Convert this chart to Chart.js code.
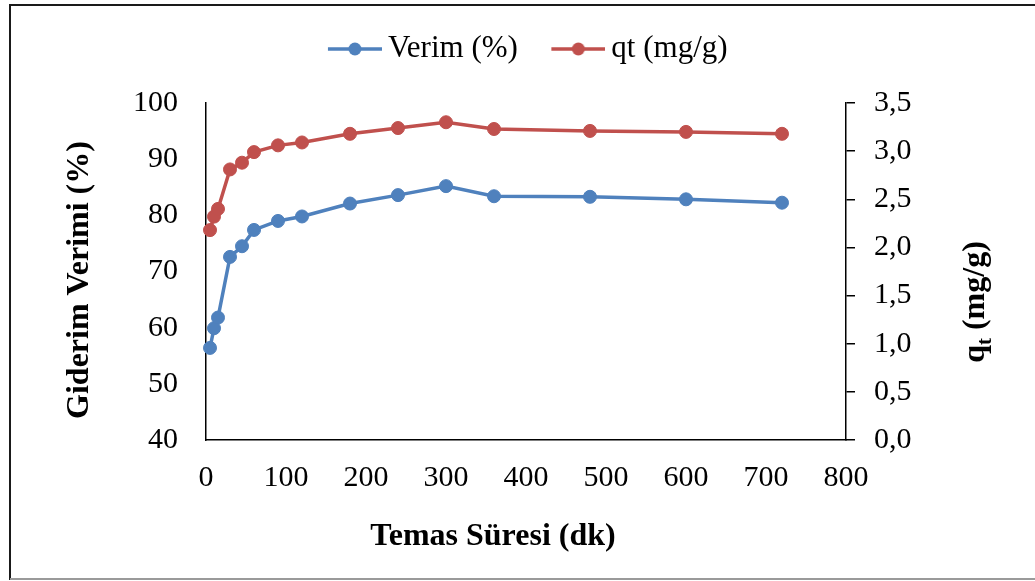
<!DOCTYPE html>
<html>
<head>
<meta charset="utf-8">
<title>Temas Süresi</title>
<script src="https://cdn.jsdelivr.net/npm/chart.js@4.4.1/dist/chart.umd.min.js"></script>
<style>
  html, body { margin: 0; padding: 0; background: #ffffff; }
  #wrap { width: 1035px; height: 581px; position: relative; }
</style>
</head>
<body>
<div id="wrap"><canvas id="chart" width="1035" height="581"></canvas></div>
<script>
// Contact time (min) and the two measured series
const contactTimes      = [5, 10, 15, 30, 45, 60, 90, 120, 180, 240, 300, 360, 480, 600, 720];
const removalEfficiency = [56.4, 59.9, 61.8, 72.6, 74.5, 77.4, 79.0, 79.8, 82.1, 83.6, 85.2, 83.4, 83.3, 82.85, 82.25];
const adsorbedAmount    = [2.18, 2.32, 2.40, 2.81, 2.88, 2.99, 3.06, 3.09, 3.18, 3.24, 3.30, 3.23, 3.21, 3.20, 3.18];
const seriesNames  = ['Verim (%)', 'qt (mg/g)'];
const seriesColors = ['#4F81BD', '#C0504D'];

// Axis ranges / steps
const xRange     = [0, 800, 100];
const leftRange  = [40, 100, 10];
const rightRange = [0, 3.5, 0.5];

const SERIF = '"Liberation Serif", "Times New Roman", serif';

// Legend marker: line with a dot in the middle
function legendMarker(color) {
  const c = document.createElement('canvas');
  c.width = 77; c.height = 16;
  const g = c.getContext('2d');
  g.strokeStyle = color; g.lineWidth = 3.5;
  g.beginPath(); g.moveTo(23, 8); g.lineTo(77, 8); g.stroke();
  g.fillStyle = color;
  g.beginPath(); g.arc(50, 8, 6.5, 0, Math.PI * 2); g.fill();
  return c;
}

function toPoints(xs, ys) { return xs.map((x, i) => ({ x: x, y: ys[i] })); }

// Page frame plus the three axis titles
const framePlugin = {
  id: 'frame',
  beforeDraw(chart) {
    const ctx = chart.ctx;
    ctx.save();
    ctx.fillStyle = '#ffffff';
    ctx.fillRect(0, 0, chart.width, chart.height);
    ctx.strokeStyle = '#1a1a1a'; ctx.lineWidth = 2;
    ctx.beginPath();
    ctx.moveTo(10, 580); ctx.lineTo(10, 5); ctx.lineTo(chart.width, 5);
    ctx.stroke();
    ctx.strokeStyle = '#9a9a9a'; ctx.lineWidth = 2;
    ctx.beginPath(); ctx.moveTo(10, 579); ctx.lineTo(chart.width, 579); ctx.stroke();
    ctx.restore();
  },
  afterDraw(chart) {
    const ctx = chart.ctx;
    ctx.save();
    ctx.fillStyle = '#000000';
    ctx.font = 'bold 32px ' + SERIF;
    ctx.textAlign = 'center';
    ctx.textBaseline = 'middle';
    // left axis title
    ctx.save(); ctx.translate(80, 280); ctx.rotate(-Math.PI / 2);
    ctx.fillText('Giderim Verimi (%)', 0, 0);
    ctx.restore();
    // bottom axis title
    ctx.fillText('Temas Süresi (dk)', 493, 537);
    // right axis title: q with subscript t
    ctx.save(); ctx.translate(973, 302); ctx.rotate(-Math.PI / 2);
    ctx.textAlign = 'left'; ctx.textBaseline = 'alphabetic';
    const mainFont = 'bold 32px ' + SERIF, subFont = 'bold 21px ' + SERIF;
    ctx.font = mainFont; const wq = ctx.measureText('q').width;
    const wr = ctx.measureText(' (mg/g)').width;
    ctx.font = subFont;  const wt = ctx.measureText('t').width;
    let x0 = -(wq + wt + wr) / 2;
    const base = 11;
    ctx.font = mainFont; ctx.fillText('q', x0, base);
    ctx.font = subFont;  ctx.fillText('t', x0 + wq, base + 7);
    ctx.font = mainFont; ctx.fillText(' (mg/g)', x0 + wq + wt, base);
    ctx.restore();
    ctx.restore();
  }
};

const axisLine = { display: true, color: '#000000', width: 1.5 };

new Chart(document.getElementById('chart'), {
  type: 'line',
  data: {
    datasets: [
      {
        label: seriesNames[0],
        data: toPoints(contactTimes, removalEfficiency),
        xAxisID: 'x', yAxisID: 'y',
        borderColor: seriesColors[0], backgroundColor: seriesColors[0],
        pointBackgroundColor: seriesColors[0], pointBorderColor: seriesColors[0],
        borderWidth: 3.5, pointRadius: 6.5, pointBorderWidth: 1, pointHoverRadius: 6.5,
        tension: 0, clip: false
      },
      {
        label: seriesNames[1],
        data: toPoints(contactTimes, adsorbedAmount),
        xAxisID: 'x', yAxisID: 'y1',
        borderColor: seriesColors[1], backgroundColor: seriesColors[1],
        pointBackgroundColor: seriesColors[1], pointBorderColor: seriesColors[1],
        borderWidth: 3.5, pointRadius: 6.5, pointBorderWidth: 1, pointHoverRadius: 6.5,
        tension: 0, clip: false
      }
    ]
  },
  options: {
    responsive: false,
    animation: false,
    devicePixelRatio: 1,
    layout: { padding: { top: 13.5, left: 7, right: 0, bottom: 0 } },
    plugins: {
      tooltip: { enabled: false },
      legend: {
        display: true,
        position: 'top',
        labels: {
          usePointStyle: true,
          pointStyleWidth: 58,
          padding: 20,
          color: '#000000',
          font: { family: SERIF, size: 31 },
          generateLabels(chart) {
            return chart.data.datasets.map((ds, i) => ({
              text: ds.label,
              pointStyle: legendMarker(seriesColors[i]),
              fillStyle: seriesColors[i],
              strokeStyle: seriesColors[i],
              lineWidth: 0,
              hidden: false,
              datasetIndex: i
            }));
          }
        }
      }
    },
    scales: {
      x: {
        type: 'linear', position: 'bottom',
        min: xRange[0], max: xRange[1],
        ticks: { stepSize: xRange[2], color: '#000000', padding: 20,
                 font: { family: SERIF, size: 30 } },
        grid: { display: false, drawTicks: false },
        border: axisLine,
        afterFit(s) { s.height = 141; }
      },
      gap: {
        type: 'linear', position: 'top', axis: 'x',
        ticks: { display: false },
        grid: { display: false, drawTicks: false },
        border: { display: false },
        afterFit(s) { s.height = 28.5; }
      },
      y: {
        type: 'linear', position: 'left',
        min: leftRange[0], max: leftRange[1],
        ticks: { stepSize: leftRange[2], color: '#000000', padding: 28,
                 font: { family: SERIF, size: 30 } },
        grid: { display: false, drawTicks: false },
        border: axisLine,
        afterFit(s) { s.width = 199; }
      },
      y1: {
        type: 'linear', position: 'right',
        min: rightRange[0], max: rightRange[1],
        ticks: { stepSize: rightRange[2], color: '#000000', padding: 19,
                 font: { family: SERIF, size: 30 },
                 callback: v => v.toFixed(1).replace('.', ',') },
        grid: { display: true, drawOnChartArea: false, drawTicks: true,
                tickLength: 9, color: '#000000', lineWidth: 1.5 },
        border: axisLine,
        afterFit(s) { s.width = 189; }
      }
    }
  },
  plugins: [framePlugin]
});
</script>
</body>
</html>
